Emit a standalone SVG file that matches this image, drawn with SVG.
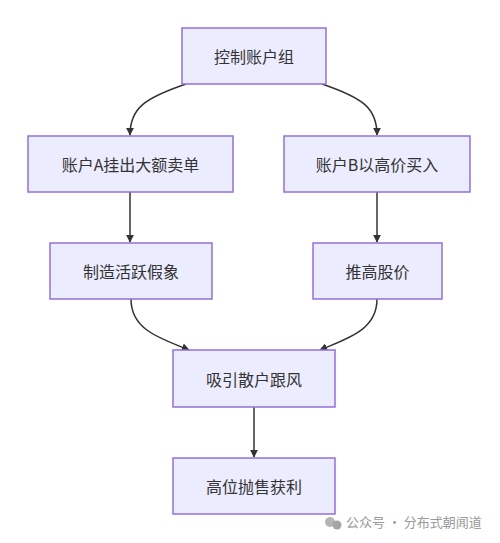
<svg xmlns="http://www.w3.org/2000/svg" width="500" height="543" viewBox="0 0 500 543">
<defs>
<marker id="arr" viewBox="0 0 10 10" refX="9" refY="5" markerWidth="8" markerHeight="8" markerUnits="userSpaceOnUse" orient="auto">
<path d="M0,0 L10,5 L0,10 z" fill="#333"/>
</marker>
<style>
.node rect{fill:#ECECFF;stroke:#9370DB;stroke-width:1.5}
.node text{font-family:"Noto Sans CJK SC","Liberation Sans",sans-serif;font-size:16px;fill:#333;text-anchor:middle;dominant-baseline:central}
.edges path{fill:none;stroke:#333;stroke-width:1.5;marker-end:url(#arr)}
.wm{font-family:"Noto Sans CJK SC","Liberation Sans",sans-serif;font-size:13px;fill:#9a9a9a}
</style>
</defs>
<rect width="500" height="543" fill="#fff"/>
<g class="edges">
<path d="M186,84 C145,98 130,108 130,135"/>
<path d="M322,84 C363,98 377,108 377,135"/>
<path d="M130,192 L130,242"/>
<path d="M377,192 L377,242"/>
<path d="M131,299 C131,330 160,338 189,350"/>
<path d="M377,299 C377,330 348,338 320,350"/>
<path d="M254,407 L254,457"/>
</g>
<g id="n1" class="node"><rect x="182" y="28" width="144" height="56"/><text x="254" y="56">控制账户组</text></g>
<g id="n2" class="node"><rect x="28" y="136" width="205" height="56"/><text x="130.5" y="164">账户A挂出大额卖单</text></g>
<g id="n3" class="node"><rect x="284" y="136" width="186" height="56"/><text x="377" y="164">账户B以高价买入</text></g>
<g id="n4" class="node"><rect x="50" y="243" width="162" height="56"/><text x="131" y="271">制造活跃假象</text></g>
<g id="n5" class="node"><rect x="313" y="243" width="129" height="56"/><text x="377.5" y="271">推高股价</text></g>
<g id="n6" class="node"><rect x="173" y="350" width="162" height="57"/><text x="254" y="378.5">吸引散户跟风</text></g>
<g id="n7" class="node"><rect x="173" y="458" width="162" height="56"/><text x="254" y="486">高位抛售获利</text></g>
<g id="wm">
<circle cx="330" cy="522" r="5" fill="#b5b5b5"/>
<circle cx="337" cy="525" r="4.5" fill="#a5a5a5"/>
<text class="wm" x="346" y="527">公众号 · 分布式朝闻道</text>
</g>
</svg>
